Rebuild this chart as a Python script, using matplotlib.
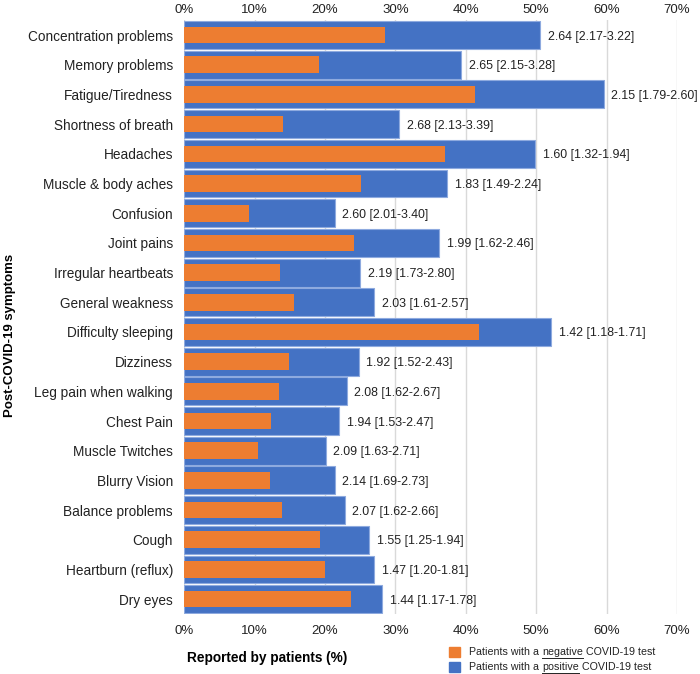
import matplotlib.pyplot as plt
import numpy as np
from matplotlib.patches import Rectangle
from matplotlib.lines import Line2D

plt.rcParams['font.family'] = ['Liberation Sans', 'DejaVu Sans']

symptoms = ["Concentration problems", "Memory problems", "Fatigue/Tiredness",
            "Shortness of breath", "Headaches", "Muscle & body aches", "Confusion",
            "Joint pains", "Irregular heartbeats", "General weakness",
            "Difficulty sleeping", "Dizziness", "Leg pain when walking", "Chest Pain",
            "Muscle Twitches", "Blurry Vision", "Balance problems", "Cough",
            "Heartburn (reflux)", "Dry eyes"]
positive = [50.6, 39.4, 59.6, 30.5, 49.9, 37.4, 21.4, 36.2, 25.0, 27.0,
            52.1, 24.8, 23.1, 22.0, 20.1, 21.4, 22.8, 26.3, 27.0, 28.1]
negative = [28.5, 19.2, 41.3, 14.1, 37.0, 25.1, 9.2, 24.2, 13.6, 15.6,
            41.9, 14.9, 13.5, 12.4, 10.5, 12.2, 13.9, 19.3, 20.0, 23.7]
odds = ["2.64 [2.17-3.22]", "2.65 [2.15-3.28]", "2.15 [1.79-2.60]", "2.68 [2.13-3.39]",
        "1.60 [1.32-1.94]", "1.83 [1.49-2.24]", "2.60 [2.01-3.40]", "1.99 [1.62-2.46]",
        "2.19 [1.73-2.80]", "2.03 [1.61-2.57]", "1.42 [1.18-1.71]", "1.92 [1.52-2.43]",
        "2.08 [1.62-2.67]", "1.94 [1.53-2.47]", "2.09 [1.63-2.71]", "2.14 [1.69-2.73]",
        "2.07 [1.62-2.66]", "1.55 [1.25-1.94]", "1.47 [1.20-1.81]", "1.44 [1.17-1.78]"]
legend_words = ["negative", "positive"]

blue = '#4472C4'
orange = '#ED7D31'

fig = plt.figure(figsize=(7, 6.74), dpi=100)
ax = fig.add_axes([0.263, 0.089, 0.704, 0.881])

y = np.arange(len(symptoms))
ax.barh(y, positive, height=0.94, color=blue, edgecolor='#8eaadf', linewidth=0.8, zorder=2)
ax.barh(y, negative, height=0.56, color=orange, zorder=3)
for yi, v, t in zip(y, positive, odds):
    ax.text(v + 1.1, yi, t, va='center_baseline', ha='left', fontsize=8.9, color='#222222')

ax.set_xlim(0, 70)
ax.set_ylim(len(symptoms) - 0.5, -0.5)
ax.set_yticks(y)
ax.set_yticklabels(symptoms, fontsize=9.8)
ticks = np.arange(0, 71, 10)
ticklabels = [f"{t}%" for t in ticks]
ax.set_xticks(ticks)
ax.set_xticklabels(ticklabels, fontsize=9.5)
ax.tick_params(axis='x', length=0, pad=8, colors='#222222')
ax.tick_params(axis='y', length=0, pad=8, colors='#222222')
ax.grid(axis='x', color='#d9d9d9', linewidth=1, zorder=0)
for s in ax.spines.values():
    s.set_visible(False)

top = ax.secondary_xaxis('top')
top.set_xticks(ticks)
top.set_xticklabels(ticklabels, fontsize=9.5)
top.tick_params(length=0, pad=3, colors='#222222')
top.spines['top'].set_visible(False)

fig.text(0.015, 0.503, "Post-COVID-19 symptoms", rotation=90, va='center', ha='center',
         fontsize=9.5, fontweight='bold')
fig.text(0.267, 0.023, "Reported by patients (%)", va='center', ha='left',
         fontsize=9.8, fontweight='bold')

# legend, with the underlined word drawn piece by piece
renderer = fig.canvas.get_renderer()
W, H = fig.bbox.width, fig.bbox.height
for ypos, col, word in [(0.033, orange, legend_words[0]), (0.0105, blue, legend_words[1])]:
    fig.patches.append(Rectangle((0.641, ypos - 0.0075), 0.0157, 0.0150,
                                 transform=fig.transFigure, color=col, figure=fig))
    x = 0.670
    for i, part in enumerate(["Patients with a ", word, " COVID-19 test"]):
        t = fig.text(x, ypos, part, va='center', ha='left', fontsize=7.7, color='#222222')
        bb = t.get_window_extent(renderer)
        if i == 1:
            fig.lines.append(Line2D([x, x + bb.width / W], [ypos - 0.0095, ypos - 0.0095],
                                    transform=fig.transFigure, color='#222222',
                                    linewidth=0.7, figure=fig))
        x += bb.width / W

fig.savefig('out.png', dpi=100)
